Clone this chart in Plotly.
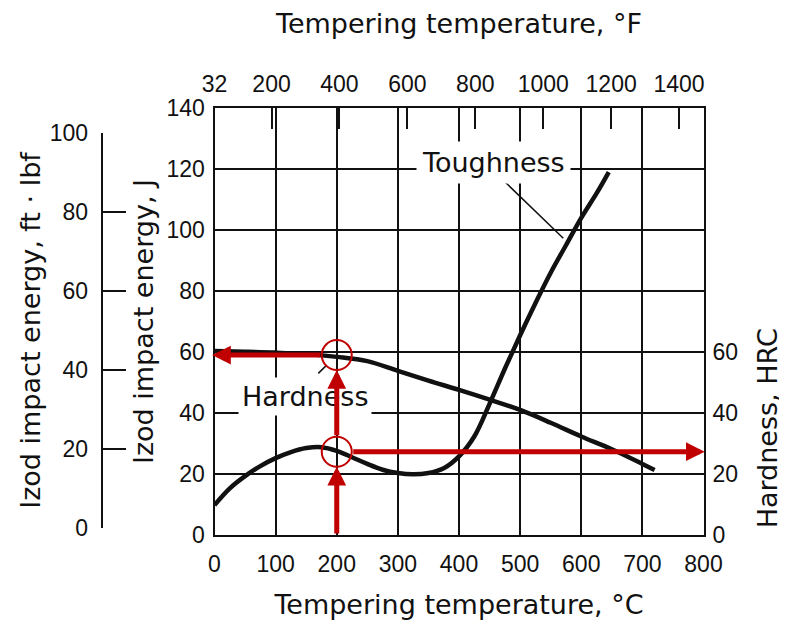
import plotly.graph_objects as go

# page is 787x629; the html body has an 8px margin, so the figure is 8px smaller
PAGE_W, PAGE_H = 787, 629
OFF = 8
W, H = PAGE_W - OFF, PAGE_H - OFF

# ---------------- data ----------------
temp_c_tough = [0, 25, 50, 75, 100, 125, 150, 175, 200, 225, 250, 275, 300, 325, 350, 375,
                400, 425, 450, 475, 500, 525, 550, 575, 600, 625, 645]
toughness_j = [9.8, 15.3, 19.3, 22.6, 25.2, 27.2, 28.5, 28.8, 27.6, 25.5, 23.3, 21.4, 20.3, 19.9, 20.3, 21.9,
               25.8, 32.3, 43.0, 54.5, 65.5, 76.0, 86.0, 95.0, 104.0, 112.0, 119.0]

temp_c_hard = [0, 50, 100, 150, 200, 250, 300, 350, 400, 450, 500, 550, 600, 650, 700, 720]
hardness_hrc = [60.3, 60.1, 59.8, 59.3, 58.4, 57.0, 53.8, 50.6, 47.6, 44.4, 41.0, 36.8, 32.3, 28.1, 23.3, 21.3]

x_ticks_c = [0, 100, 200, 300, 400, 500, 600, 700, 800]
y_ticks_j = [0, 20, 40, 60, 80, 100, 120, 140]
f_ticks = [32, 200, 400, 600, 800, 1000, 1200, 1400]
ftlbf_ticks = [0, 20, 40, 60, 80, 100]
hrc_ticks = [0, 20, 40, 60]

read_temp_c = 200
read_hardness = 59.0
read_toughness = 27.3

# ---------------- style ----------------
BLACK = "#111111"
RED = "#c00000"
TICK_FONT = dict(family="Liberation Sans Narrow, Arial Narrow, Liberation Sans, Arial, sans-serif", size=23, color=BLACK)
TITLE_FONT = dict(family="DejaVu Sans, Verdana, sans-serif", size=27, color=BLACK)


def px_x(p):
    return (p - OFF) / W


def px_y(p):
    return 1 - (p - OFF) / H


# plot area in page pixels
PL, PR, PT, PB = 214.5, 703.5, 108.0, 535.0
xd = [px_x(PL), px_x(PR)]
yd = [px_y(PB), px_y(PT)]
px_per_j = (PB - PT) / 140.0

# ft-lbf axis geometry (page pixels)
FT_X = 101.7
FT_BOT, FT_TOP = 528.3, 132.7

f_pos = [(f - 32) * 5.0 / 9.0 for f in f_ticks]

fig = go.Figure()

fig.add_trace(go.Scatter(x=temp_c_tough, y=toughness_j, mode="lines",
                         line=dict(color=BLACK, width=4.5, shape="spline", smoothing=1.0),
                         hoverinfo="skip"))
fig.add_trace(go.Scatter(x=temp_c_hard, y=hardness_hrc, mode="lines",
                         line=dict(color=BLACK, width=4.5, shape="spline", smoothing=1.0),
                         hoverinfo="skip"))
# invisible traces to activate secondary axes
fig.add_trace(go.Scatter(x=[None], y=[None], xaxis="x2", yaxis="y", showlegend=False, hoverinfo="skip"))
fig.add_trace(go.Scatter(x=[None], y=[None], xaxis="x", yaxis="y3", showlegend=False, hoverinfo="skip"))
fig.add_trace(go.Scatter(x=[None], y=[None], xaxis="x", yaxis="y4", showlegend=False, hoverinfo="skip"))

hrc_range_top = 70
hrc_dom_top = px_y(PB - hrc_range_top * px_per_j)

fig.update_layout(
    width=W, height=H,
    margin=dict(l=0, r=0, t=0, b=0, autoexpand=False),
    paper_bgcolor="white",
    plot_bgcolor="rgba(0,0,0,0)",
    showlegend=False,
    xaxis=dict(domain=xd, range=[0, 800], tickvals=x_ticks_c, anchor="y",
               showgrid=True, gridcolor=BLACK, gridwidth=2,
               showline=True, linecolor=BLACK, linewidth=2, mirror=True,
               zeroline=False, ticks="", tickfont=TICK_FONT, ticklabelstandoff=7,
               automargin=False,
               title=dict(text="Tempering temperature, °C", font=TITLE_FONT, standoff=20)),
    xaxis2=dict(overlaying="x", side="top", range=[0, 800], anchor="y",
                tickvals=f_pos, ticktext=[str(f) for f in f_ticks],
                ticks="inside", ticklen=21, tickwidth=2, tickcolor=BLACK,
                showgrid=False, zeroline=False, showline=False,
                tickfont=TICK_FONT, ticklabelstandoff=10, automargin=False,
                title=dict(text="Tempering temperature, °F", font=TITLE_FONT, standoff=29)),
    yaxis=dict(domain=yd, range=[0, 140], tickvals=y_ticks_j, anchor="x",
               showgrid=True, gridcolor=BLACK, gridwidth=2,
               showline=True, linecolor=BLACK, linewidth=2, mirror=True,
               zeroline=False, ticks="", tickfont=TICK_FONT, ticklabelstandoff=3,
               automargin=False,
               title=dict(text="Izod impact energy, J", font=TITLE_FONT, standoff=5)),
    yaxis3=dict(anchor="free", position=px_x(FT_X), side="left",
                domain=[px_y(FT_BOT), px_y(FT_TOP)], range=[0, 100],
                tickvals=ftlbf_ticks, ticks="inside", ticklen=23, tickwidth=2, tickcolor=BLACK,
                showline=True, linecolor=BLACK, linewidth=2,
                showgrid=False, zeroline=False, tickfont=TICK_FONT, ticklabelstandoff=8,
                automargin=False,
                title=dict(text="Izod impact energy, ft · lbf", font=TITLE_FONT, standoff=0)),
    yaxis4=dict(anchor="x", side="right",
                domain=[yd[0], hrc_dom_top], range=[0, hrc_range_top],
                tickvals=hrc_ticks, ticks="", showline=False, showgrid=False, zeroline=False,
                tickfont=TICK_FONT, ticklabelstandoff=8, automargin=False,
                title=dict(text="Hardness, HRC", font=TITLE_FONT, standoff=21)),
)

# ---------------- labels with white boxes ----------------
fig.add_annotation(x=457, y=122, xref="x", yref="y", text="Toughness", showarrow=False,
                   font=TITLE_FONT, bgcolor="white", borderpad=5)
fig.add_annotation(x=148, y=45.5, xref="x", yref="y", text="Hardness", showarrow=False,
                   font=TITLE_FONT, bgcolor="white", borderpad=3)

# leader lines
fig.add_shape(type="line", xref="x", yref="y", x0=475, y0=115.8, x1=570.6, y1=97.3,
              line=dict(color=BLACK, width=1.5))
fig.add_shape(type="line", xref="x", yref="y", x0=169.8, y0=53.0, x1=183.5, y1=55.7,
              line=dict(color=BLACK, width=1.5))

# ---------------- red reading arrows ----------------
r_px = 15
r_j = r_px / px_per_j
r_c = r_px / ((PR - PL) / 800)
arrows = [
    (read_temp_c, 0, read_temp_c, read_toughness - r_j),
    (read_temp_c, read_toughness + r_j, read_temp_c, read_hardness - r_j),
    (read_temp_c - r_c, read_hardness, -4, read_hardness),
    (read_temp_c + r_c, read_toughness, 802, read_toughness),
]
for ax_, ay_, x_, y_ in arrows:
    fig.add_annotation(x=x_, y=y_, ax=ax_, ay=ay_, xref="x", yref="y", axref="x", ayref="y",
                       text="", showarrow=True, arrowhead=2, arrowsize=0.75, arrowwidth=5,
                       arrowcolor=RED, standoff=0, startstandoff=0)

for cy in (read_hardness, read_toughness):
    fig.add_shape(type="circle", xref="x", yref="y", xsizemode="pixel", ysizemode="pixel",
                  xanchor=read_temp_c, yanchor=cy, x0=-r_px, x1=r_px, y0=-r_px, y1=r_px,
                  line=dict(color=RED, width=2), layer="above")

fig.write_html("out.html")
